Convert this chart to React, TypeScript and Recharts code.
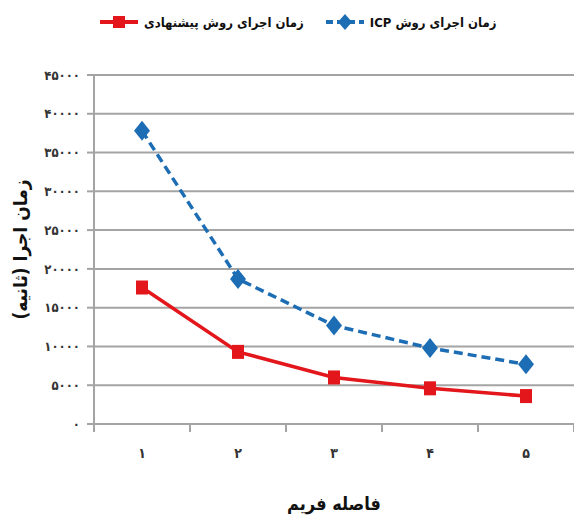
import React from 'react'
import {
  LineChart,
  Line,
  XAxis,
  YAxis,
  CartesianGrid,
  Legend,
} from 'recharts'

// frame gap vs. runtime (seconds) for the two registration methods
const frames = [1, 2, 3, 4, 5]
const frameLabels = ['۱', '۲', '۳', '۴', '۵']
const icpTimes = [37800, 18700, 12700, 9800, 7700]
const proposedTimes = [17600, 9300, 6000, 4600, 3600]
const yTicks = [0, 5000, 10000, 15000, 20000, 25000, 30000, 35000, 40000, 45000]
const xEdges = [0.5, 1.5, 2.5, 3.5, 4.5, 5.5]
const legendOrder = ['proposed', 'icp']

const PROPOSED_NAME = 'زمان اجرای روش پیشنهادی'
const ICP_NAME = 'زمان اجرای روش ICP'
const X_TITLE = 'فاصله فریم'
const Y_TITLE = 'زمان اجرا (ثانیه)'

const RED = '#e3161b'
const BLUE = '#1d6db5'
const GRID = '#a4a4a4'
const FONT = '"DejaVu Sans Condensed", "DejaVu Sans", sans-serif'

const WIDTH = 574
const HEIGHT = 522
const Y_AXIS_W = 94
const MARGIN = { top: 39, right: 0, left: 0, bottom: 0 }
const HALF_BAND = (WIDTH - Y_AXIS_W - MARGIN.left - MARGIN.right) / frames.length / 2

const data = frames.map((f, i) => ({
  frame: f,
  proposed: proposedTimes[i],
  icp: icpTimes[i],
}))

const toPersian = (n: number | string) =>
  String(n).replace(/\d/g, (d) => '۰۱۲۳۴۵۶۷۸۹'[Number(d)])

function SquareDot({ cx, cy }: any) {
  if (cx == null || cy == null) return <g />
  return <rect x={cx - 6} y={cy - 7} width={12} height={14} fill={RED} />
}

function DiamondDot({ cx, cy }: any) {
  if (cx == null || cy == null) return <g />
  return (
    <polygon
      points={`${cx},${cy - 10} ${cx + 8},${cy} ${cx},${cy + 10} ${cx - 8},${cy}`}
      fill={BLUE}
    />
  )
}

// tick marks sit on the band edges, the frame number is centred in the band
function FrameTick({ x, y, payload }: any) {
  const i = xEdges.indexOf(payload.value)
  if (i < 0 || i >= frameLabels.length) return <g />
  return (
    <text
      x={x + HALF_BAND}
      y={y + 24}
      textAnchor="middle"
      fontFamily={FONT}
      fontSize={14}
      fontWeight="bold"
      fill="#333"
    >
      {frameLabels[i]}
    </text>
  )
}

function LegendContent({ payload }: any) {
  const items = [...(payload || [])].sort(
    (a: any, b: any) => legendOrder.indexOf(a.dataKey) - legendOrder.indexOf(b.dataKey),
  )
  return (
    <div
      style={{
        display: 'flex',
        alignItems: 'center',
        height: 36,
        paddingLeft: 100,
        fontFamily: FONT,
        fontWeight: 'bold',
        fontSize: 13,
        color: '#111',
      }}
    >
      {items.map((entry: any, idx: number) => {
        const isIcp = entry.dataKey === 'icp'
        const color = entry.color
        return (
          <div
            key={entry.dataKey}
            style={{ display: 'flex', alignItems: 'center', marginLeft: idx ? 22 : 0 }}
          >
            <svg width={38} height={20}>
              <line
                x1={0}
                x2={38}
                y1={10}
                y2={10}
                stroke={color}
                strokeWidth={4}
                strokeDasharray={isIcp ? '7 4' : undefined}
              />
              {isIcp ? (
                <polygon points="19,2 26,10 19,18 12,10" fill={color} />
              ) : (
                <rect x={13} y={4} width={12} height={12} fill={color} />
              )}
            </svg>
            <span dir="rtl" style={{ marginLeft: 6 }}>
              {entry.value}
            </span>
          </div>
        )
      })}
    </div>
  )
}

export default function App() {
  return (
    <div style={{ width: WIDTH, height: HEIGHT, background: '#fff' }}>
      <style>{'body{margin:0}'}</style>
      <LineChart width={WIDTH} height={HEIGHT} data={data} margin={MARGIN}>
        <CartesianGrid vertical={false} stroke={GRID} strokeWidth={2} />
        <XAxis
          dataKey="frame"
          type="number"
          domain={[0.5, 5.5]}
          ticks={xEdges}
          interval={0}
          height={HEIGHT - 424 - MARGIN.bottom}
          stroke={GRID}
          strokeWidth={2}
          tickSize={8}
          tick={<FrameTick />}
          label={{
            content: ({ viewBox }: any) => (
              <text
                x={viewBox.x + viewBox.width / 2}
                y={viewBox.y + 86}
                textAnchor="middle"
                direction="rtl"
                fontFamily={FONT}
                fontWeight="bold"
                fontSize={18}
                fill="#111"
              >
                {X_TITLE}
              </text>
            ),
          }}
        />
        <YAxis
          domain={[0, 45000]}
          ticks={yTicks}
          interval={0}
          width={Y_AXIS_W}
          stroke={GRID}
          strokeWidth={2}
          tickSize={7}
          tickMargin={7}
          tickFormatter={(v: number) => toPersian(v)}
          tick={{ fontFamily: FONT, fontSize: 13, fontWeight: 'bold', fill: '#333' }}
          label={{
            content: ({ viewBox }: any) => {
              const cx = viewBox.x + 20
              const cy = viewBox.y + viewBox.height / 2
              return (
                <text
                  x={cx}
                  y={cy}
                  transform={`rotate(-90, ${cx}, ${cy})`}
                  textAnchor="middle"
                  dominantBaseline="central"
                  direction="rtl"
                  fontFamily={FONT}
                  fontWeight="bold"
                  fontSize={19}
                  fill="#111"
                >
                  {Y_TITLE}
                </text>
              )
            },
          }}
        />
        <Legend
          verticalAlign="top"
          content={<LegendContent />}
          wrapperStyle={{ top: 4, left: 0, width: WIDTH }}
        />
        <Line
          dataKey="proposed"
          name={PROPOSED_NAME}
          stroke={RED}
          strokeWidth={3.5}
          dot={<SquareDot />}
          activeDot={false}
          isAnimationActive={false}
        />
        <Line
          dataKey="icp"
          name={ICP_NAME}
          stroke={BLUE}
          strokeWidth={3.5}
          strokeDasharray="9 5"
          dot={<DiamondDot />}
          activeDot={false}
          isAnimationActive={false}
        />
      </LineChart>
    </div>
  )
}
